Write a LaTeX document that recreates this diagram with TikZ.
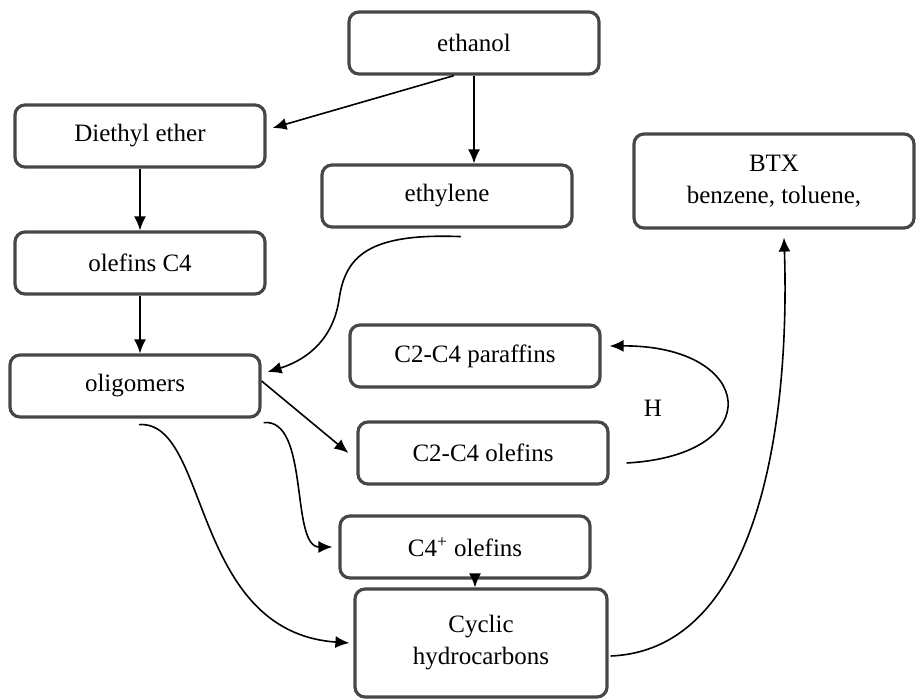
\documentclass[tikz,border=0pt]{standalone}
\usepackage{fontspec}
\setmainfont{Liberation Serif}
\usetikzlibrary{positioning,arrows.meta}

\begin{document}
\begin{tikzpicture}[x=0.5pt,y=-0.5pt,
        box/.style={draw=black!72,line width=1.6pt,rounded corners=5pt,
            minimum width=125pt,minimum height=31pt,align=center,
            inner sep=2pt},
        conn/.style={line width=0.8pt,-{Latex[length=7pt,width=6pt]}},
        font=\fontsize{12.5}{16}\selectfont
    ]
\useasboundingbox (0,0) rectangle (917,699);
% boxes
\node[box] (ethanol) at (474,43) {ethanol};
\node[box] (diethyl) at (140,136) {Diethyl ether};
\node[box] (ethylene) at (447,196) {ethylene};
\node[box,minimum width=140pt,minimum height=47pt] (btx) at (774,181)
    {BTX\\benzene, toluene,};
\node[box] (olefinsC) at (140,263) {olefins C4};
\node[box] (oligomers) at (135,386) {oligomers};
\node[box] (paraffins) at (475,356) {C2-C4 paraffins};
\node[box] (lightolef) at (483,453) {C2-C4 olefins};
\node[box] (heavyolef) at (465,547) {C4\textsuperscript{+} olefins};
\node[box,minimum width=126pt,minimum height=54pt] (cyclic) at (481,643)
    {Cyclic\\hydrocarbons};
\node (hlabel) at (653,408) {H};
% straight arrows
\draw[conn] ([xshift=-10pt]ethanol.south) -- ([xshift=3pt,yshift=4pt]diethyl.east);
\draw[conn] (ethanol.south) -- (ethanol.south |- ethylene.north);
\draw[conn] (diethyl) -- (olefinsC);
\draw[conn] (olefinsC.south) -- (olefinsC.south |- oligomers.north);
\draw[conn] ([yshift=2.5pt]oligomers.east) -- ([xshift=-4pt]lightolef.west);
\draw[conn] ([xshift=5pt]heavyolef.south) -- ([xshift=5pt]heavyolef.south |- cyclic.north);
% curved arrows
\draw[conn] ([xshift=7pt,yshift=-4pt]ethylene.south)
    .. controls (370,233) and (345,255) .. (339,300)
    .. controls (332,345) and (300,362) .. ([xshift=3pt,yshift=7pt]oligomers.east);
\draw[conn] ([xshift=1pt,yshift=-2pt]oligomers.south east)
    .. controls (310,418) and (290,547) .. ([xshift=-3pt]heavyolef.west);
\draw[conn] ([xshift=2pt,yshift=-3pt]oligomers.south)
    .. controls (210,420) and (190,632) .. ([xshift=-2pt]cyclic.west);
\draw[conn] ([xshift=8.5pt,yshift=-5pt]lightolef.east)
    .. controls (770,455) and (755,345) .. ([xshift=4pt,yshift=5pt]paraffins.east);
\draw[conn] ([xshift=1pt,yshift=-6.5pt]cyclic.east)
    .. controls (760,650) and (790,420) .. ([xshift=5pt,yshift=-4pt]btx.south);
\end{tikzpicture}
\end{document}
